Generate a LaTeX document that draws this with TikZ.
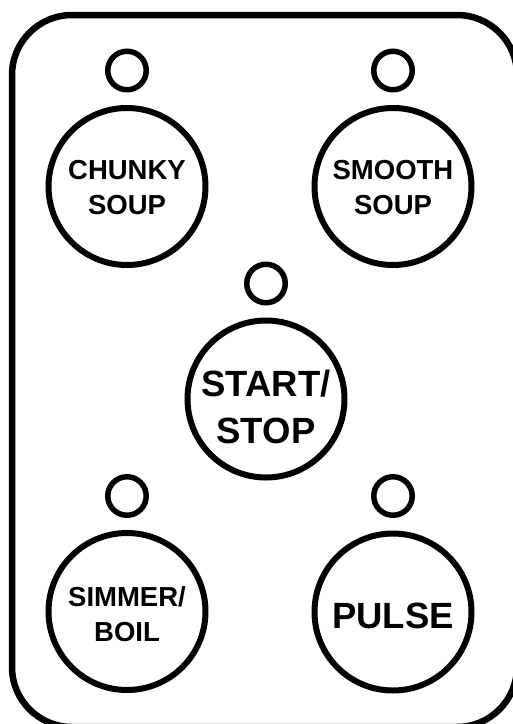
\documentclass[tikz,border=0pt]{standalone}
\usepackage{fontspec}
\setmainfont{Liberation Sans}
\begin{document}
\begin{tikzpicture}[x=1pt,y=-1pt,
 btn/.style={circle,draw=black,line width=6pt,fill=white,inner sep=0pt,minimum size=157pt},
 led/.style={circle,draw=black,line width=5.5pt,fill=white,inner sep=0pt,minimum size=38.5pt},
 small/.style={inner sep=0pt,align=center,font=\fontsize{27.5}{35}\selectfont\bfseries},
 large/.style={inner sep=0pt,align=center,font=\fontsize{36.5}{47}\selectfont\bfseries}]
\useasboundingbox (0,0) rectangle (513,724);
\fill[white] (0,0) rectangle (513,724);
\begin{scope}
\clip (0,0) rectangle (513,724);
\draw[line width=6.5pt,rounded corners=60pt] (12,15) rectangle (517,727);
\end{scope}
\node[led] (l1) at (127,70.5) {};
\node[led] (l2) at (393,70.5) {};
\node[led] (l3) at (266,283.5) {};
\node[led] (l4) at (127,496) {};
\node[led] (l5) at (393,496) {};
\node[btn] (b1) at (127,186.5) {};
\node[btn] (b2) at (393,186.5) {};
\node[btn] (b3) at (266,399) {};
\node[btn] (b4) at (127,611.5) {};
\node[btn] (b5) at (393,612) {};
\node[small,yshift=-1.5pt] (t1) at (b1) {CHUNKY\\SOUP};
\node[small,yshift=-1.5pt] (t2) at (b2) {SMOOTH\\SOUP};
\node[large,yshift=-8pt] (t3) at (b3) {START/\\STOP};
\node[small,yshift=-3pt] (t4) at (b4) {SIMMER/\\BOIL};
\node[large,yshift=-4pt] (t5) at (b5) {PULSE};
\end{tikzpicture}
\end{document}
